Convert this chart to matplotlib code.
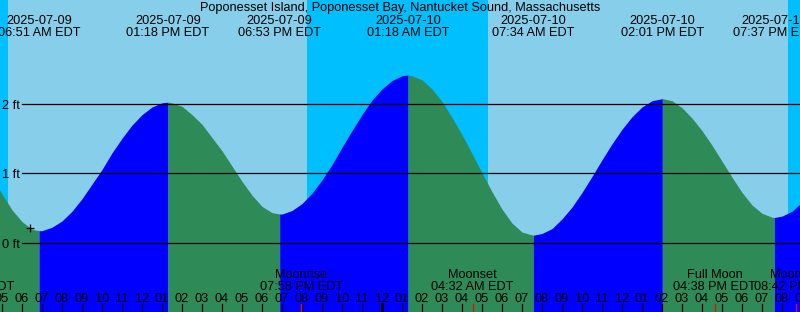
import matplotlib
matplotlib.use("Agg")
import matplotlib.pyplot as plt
import matplotlib.transforms as mtransforms
from datetime import datetime

plt.rcParams['font.family'] = ['Liberation Sans', 'DejaVu Sans']
plt.rcParams['font.size'] = 9.2

start = datetime(2025, 7, 9)

def parse(s):
    return datetime.strptime(s, "%Y-%m-%d %H:%M")

def hours(s):
    return (parse(s) - start).total_seconds() / 3600

title = "Poponesset Island, Poponesset Bay, Nantucket Sound, Massachusetts"

# high / low tides
tide_when = ["2025-07-09 06:51", "2025-07-09 13:18", "2025-07-09 18:53",
             "2025-07-10 01:18", "2025-07-10 07:34", "2025-07-10 14:01",
             "2025-07-10 19:37"]
tide_ft = [0.17, 2.02, 0.41, 2.41, 0.105, 2.07, 0.36]

# water level read every half hour, from 04:00 on 2025-07-09 to 21:00 on 2025-07-10
level_t = [4 + i / 2 for i in range(83)]
level_ft = [1.18, 0.93, 0.70, 0.47, 0.30, 0.19, 0.17, 0.22, 0.31, 0.45,
            0.63, 0.84, 1.05, 1.29, 1.50, 1.69, 1.84, 1.95, 2.01, 2.01,
            1.96, 1.84, 1.70, 1.51, 1.32, 1.10, 0.88, 0.68, 0.52, 0.43,
            0.41, 0.46, 0.56, 0.71, 0.90, 1.12, 1.37, 1.61, 1.84, 2.05,
            2.21, 2.33, 2.40, 2.40, 2.34, 2.21, 2.03, 1.80, 1.55, 1.28,
            1.00, 0.73, 0.48, 0.28, 0.15, 0.11, 0.13, 0.20, 0.34, 0.51,
            0.72, 0.95, 1.19, 1.42, 1.63, 1.81, 1.95, 2.04, 2.07, 2.04,
            1.94, 1.79, 1.61, 1.40, 1.17, 0.94, 0.72, 0.54, 0.42, 0.365,
            0.38, 0.45, 0.58]

sunrise = ["2025-07-09 05:18", "2025-07-10 05:17"]
sunset = ["2025-07-09 20:16", "2025-07-10 20:18"]

moon_names = ["Moonset", "Moonrise", "Moonset", "Full Moon", "Moonrise"]
moon_when = ["2025-07-09 03:33", "2025-07-09 19:58", "2025-07-10 04:32",
             "2025-07-10 16:38", "2025-07-10 20:42"]

now_when = "2025-07-09 06:24"
now_ft = 0.21

grid_ft = [0, 1, 2]

fig = plt.figure(figsize=(8, 3.12), dpi=100)
ax = fig.add_axes([0, 0, 1, 1])
ax.set_xlim(4.9, 44.9)
ax.set_ylim(-1.0, 3.49)
ax.set_xticks([])
ax.set_yticks([])
for s in ax.spines.values():
    s.set_visible(False)

# day / night
ax.set_facecolor("#87ceeb")
rise = [hours(s) for s in sunrise]
sets = [hours(s) for s in sunset]
ax.axvspan(0, rise[0], color="#00bfff", lw=0, zorder=0)
ax.axvspan(sets[0], rise[1], color="#00bfff", lw=0, zorder=0)
ax.axvspan(sets[1], 48, color="#00bfff", lw=0, zorder=0)

# tide curve, blue when rising, green when falling
tide_t = [hours(s) for s in tide_when]
pts = sorted(zip(level_t + tide_t, level_ft + tide_ft))
bounds = [level_t[0]] + tide_t + [level_t[-1]]
for a, b in zip(bounds[:-1], bounds[1:]):
    ts, hs = zip(*[(t, h) for t, h in pts if a <= t <= b])
    color = "#0000ff" if hs[-1] > hs[0] else "#2e8b57"
    ax.fill_between(ts, hs, -2, color=color, lw=0, zorder=1)

for g in grid_ft:
    ax.axhline(g, xmin=22 / 800, color="black", lw=0.9, zorder=2)
    ax.annotate(f"{g} ft", xy=(2 / 800, g), xycoords=("axes fraction", "data"),
                xytext=(0, -5), textcoords="offset pixels", va="baseline", zorder=3)

ax.plot(hours(now_when), now_ft, "+", color="black", ms=6, mew=0.9, zorder=3)

tr = mtransforms.blended_transform_factory(ax.transData, ax.transAxes)
ax.text(0.5, 1 - 11 / 312, title, transform=ax.transAxes, ha="center", va="baseline")
for s in tide_when:
    d = parse(s)
    ax.text(hours(s), 1 - 24 / 312, d.strftime("%Y-%m-%d"), transform=tr,
            ha="center", va="baseline", zorder=3)
    ax.text(hours(s), 1 - 36 / 312, d.strftime("%I:%M %p EDT"), transform=tr,
            ha="center", va="baseline", zorder=3)

for name, s in zip(moon_names, moon_when):
    d = parse(s)
    ax.text(hours(s), 1 - 278 / 312, name, transform=tr, ha="center",
            va="baseline", zorder=3)
    ax.text(hours(s), 1 - 290 / 312, d.strftime("%I:%M %p EDT"), transform=tr,
            ha="center", va="baseline", zorder=3)
    ax.axvline(hours(s), ymin=0, ymax=8 / 312, color="red", lw=0.9, zorder=4)

# hour ticks
for h in range(4, 47):
    ax.text(h, 1 - 302 / 312, f"{(h % 12) or 12:02d}", transform=tr,
            ha="center", va="baseline", zorder=3)
    lw = 2.2 if h % 24 == 0 else 0.9
    ax.axvline(h, ymin=0, ymax=8 / 312, color="black", lw=lw, zorder=3)

fig.savefig("out.png", dpi=100)
